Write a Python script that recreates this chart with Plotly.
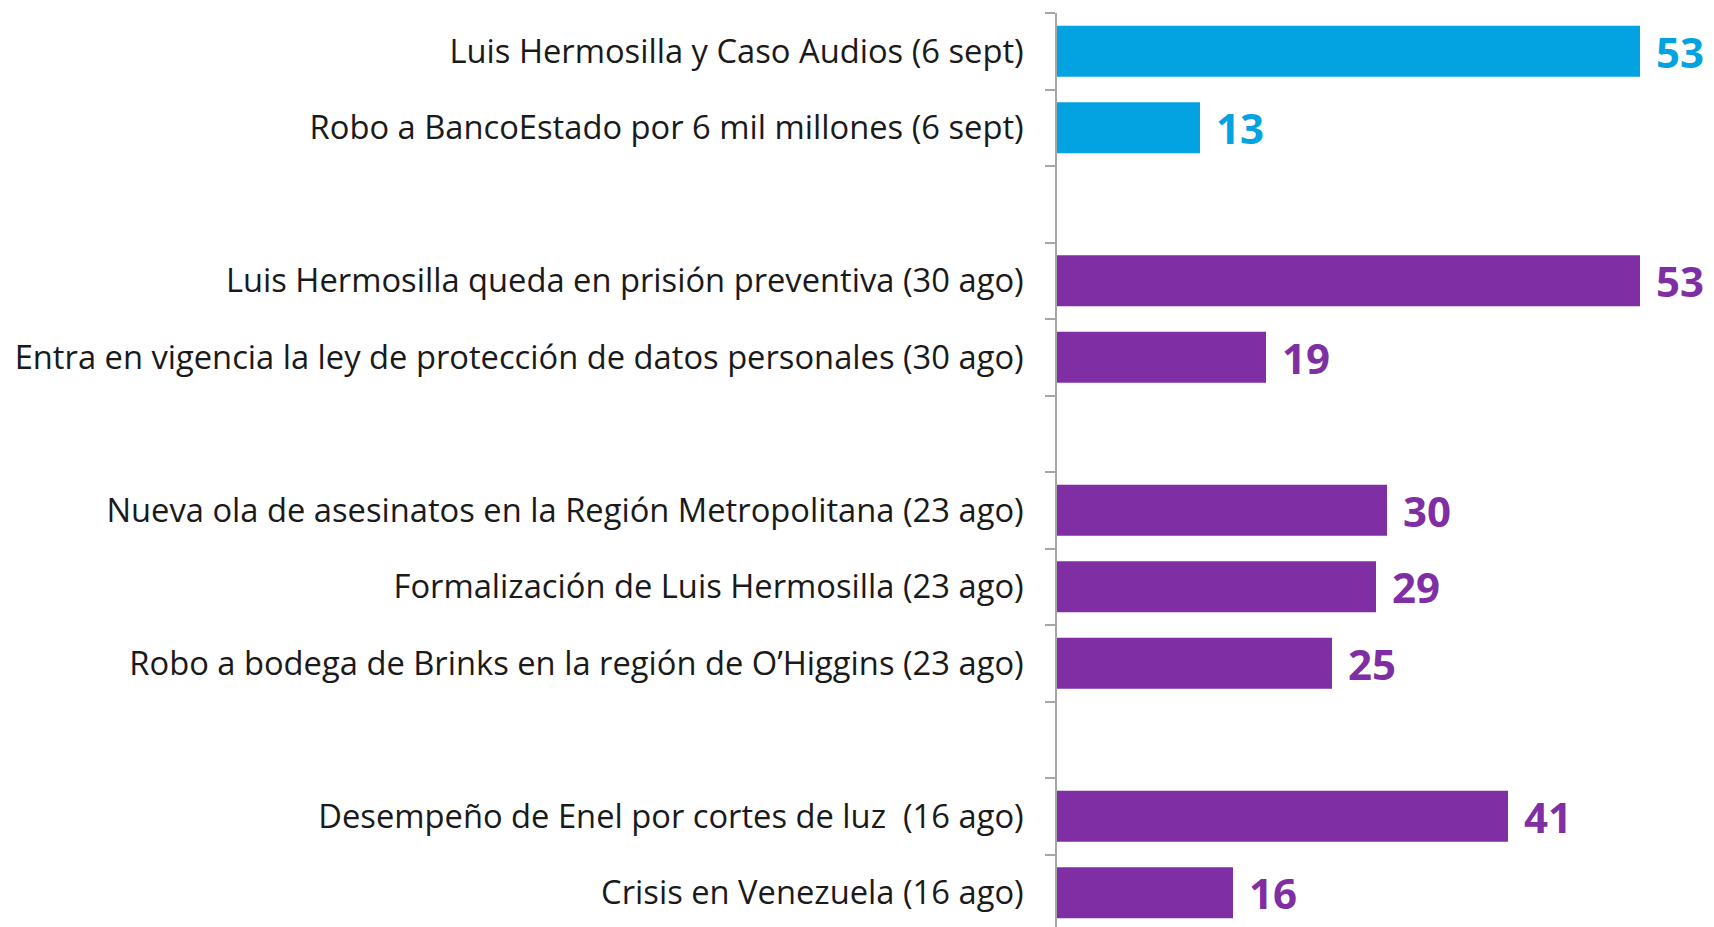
import plotly.graph_objects as go

categories = [
    "Luis Hermosilla y Caso Audios (6 sept)",
    "Robo a BancoEstado por 6 mil millones (6 sept)",
    " ",
    "Luis Hermosilla queda en prisión preventiva (30 ago)",
    "Entra en vigencia la ley de protección de datos personales (30 ago)",
    "  ",
    "Nueva ola de asesinatos en la Región Metropolitana (23 ago)",
    "Formalización de Luis Hermosilla (23 ago)",
    "Robo a bodega de Brinks en la región de O\u2019Higgins (23 ago)",
    "   ",
    "Desempeño de Enel por cortes de luz  (16 ago)",
    "Crisis en Venezuela (16 ago)",
]
values = [53, 13, None, 53, 19, None, 30, 29, 25, None, 41, 16]
groups = ["latest", "latest", None, "prev", "prev", None, "prev", "prev", "prev", None, "prev", "prev"]

COLORS = {"latest": "#03A2E0", "prev": "#802EA4", None: "rgba(0,0,0,0)"}
bar_colors = [COLORS[g] for g in groups]

FONT = "Open Sans, Lato, sans-serif"

fig = go.Figure(
    go.Bar(
        y=categories,
        x=values,
        orientation="h",
        marker=dict(color=bar_colors, line=dict(width=0)),
        width=0.665,
        hoverinfo="skip",
    )
)

for cat, val, g in zip(categories, values, groups):
    if val is None:
        continue
    fig.add_annotation(
        x=val, y=cat, text=f"<b>{val}</b>", showarrow=False,
        xanchor="left", yanchor="middle", xshift=14,
        font=dict(family=FONT, size=42, color=COLORS[g]),
    )

fig.update_layout(
    width=1714, height=927,
    margin=dict(l=1049, r=0, t=5, b=4),
    paper_bgcolor="white", plot_bgcolor="white",
    showlegend=False,
    xaxis=dict(range=[0, 665 / 11], visible=False, fixedrange=True),
    yaxis=dict(
        type="category",
        categoryorder="array", categoryarray=categories,
        range=[11.5, -0.5],
        showline=True, linecolor="#A6A6A6", linewidth=1.5,
        ticks="outside", tickson="boundaries", ticklen=10,
        tickcolor="#A6A6A6", tickwidth=1.5,
        ticklabelstandoff=25,
        showgrid=False, zeroline=False,
        tickfont=dict(family=FONT, size=32.7, color="#1A1A1A"),
    ),
)

fig.write_html("out.html")
